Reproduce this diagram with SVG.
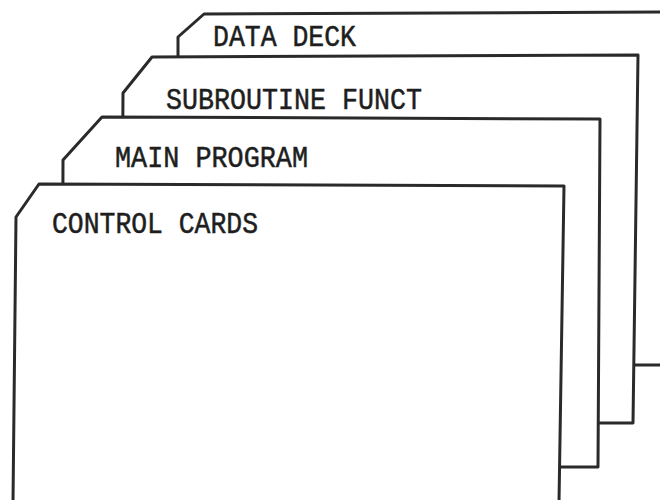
<svg xmlns="http://www.w3.org/2000/svg" width="660" height="500" viewBox="0 0 660 500">
  <defs>
    <style>
      .card { fill: #ffffff; stroke: #2a2a2a; stroke-width: 3; stroke-linejoin: round; }
      .edge { fill: none; stroke: #2a2a2a; stroke-width: 3; stroke-linejoin: round; }
      .lbl { font-family: "Liberation Mono", "DejaVu Sans Mono", monospace; font-size: 29px; fill: #1e1e1e; stroke: #1e1e1e; stroke-width: 0.5; }
    </style>
    <linearGradient id="fade" x1="0" y1="0" x2="1" y2="0">
      <stop offset="0" stop-color="#2a2a2a"/>
      <stop offset="0.5" stop-color="#555555"/>
      <stop offset="1" stop-color="#cccccc"/>
    </linearGradient>
  </defs>
  <rect width="660" height="500" fill="#ffffff"/>
  <g id="data-deck">
    <path class="card" d="M204,14 L670,12 L670,365 L178,365 L178,37 Z"/>
    <text class="lbl" x="213" y="46" textLength="143" lengthAdjust="spacingAndGlyphs">DATA DECK</text>
  </g>
  <g id="subroutine-funct">
    <path class="card" d="M152,57 L638,55 L633,423 L121,423 L123,93 Z"/>
    <text class="lbl" x="166" y="109" textLength="256" lengthAdjust="spacingAndGlyphs">SUBROUTINE FUNCT</text>
  </g>
  <g id="main-program">
    <path class="card" d="M102,117 L600,119 L598,467 L62,467 L63,160 Z"/>
    <text class="lbl" x="115" y="167" textLength="193" lengthAdjust="spacingAndGlyphs">MAIN PROGRAM</text>
  </g>
  <g id="control-cards">
    <path d="M39,184 L564,186 L559,510 L13,510 L16,217 Z" fill="#ffffff" stroke="none"/>
    <path class="edge" d="M13,502 L16,217 L39,184 L564,186 L559,502"/>
    <path d="M13,499 L115,499" stroke="url(#fade)" stroke-width="3" fill="none"/>
    <text class="lbl" x="52" y="233" textLength="206" lengthAdjust="spacingAndGlyphs">CONTROL CARDS</text>
  </g>
</svg>
